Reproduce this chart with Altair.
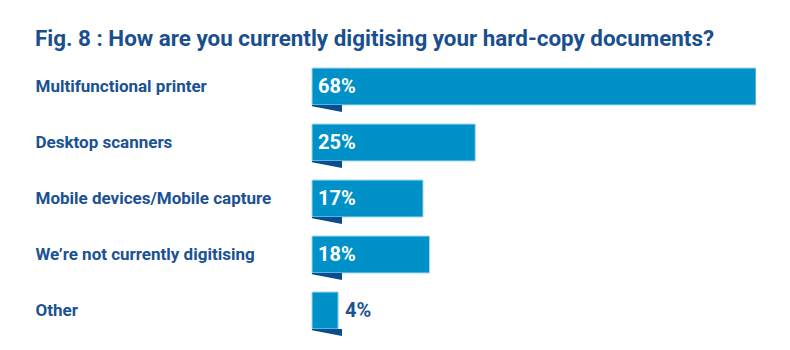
import altair as alt
import pandas as pd

categories = [
    "Multifunctional printer",
    "Desktop scanners",
    "Mobile devices/Mobile capture",
    "We\u2019re not currently digitising",
    "Other",
]
values = [68, 25, 17, 18, 4]

df = pd.DataFrame({
    "category": categories,
    "value": values,
    "label": [f"{v}%" for v in values],
})

BAR = "#0091c9"
EDGE = "#9fd6ef"
FOLD = "#0b4c8c"
DARK = "#1a5294"
FONT = "Roboto"

y_enc = alt.Y(
    "category:N",
    sort=categories,
    title=None,
    scale=alt.Scale(paddingInner=0.34, paddingOuter=0.17),
    axis=alt.Axis(
        labelAlign="left",
        labelPadding=277,
        ticks=False,
        domain=False,
        labelFont=FONT,
        labelFontSize=17,
        labelFontWeight="bold",
        labelColor=DARK,
        labelLimit=300,
    ),
)
x_scale = alt.Scale(domain=[0, 68], nice=False)

base = alt.Chart(df)

bars = base.mark_bar(color=BAR, stroke=EDGE, strokeWidth=1).encode(
    x=alt.X("value:Q", scale=x_scale, axis=None),
    y=y_enc,
)

fold = base.mark_point(
    shape="M0,0.617 L1,0.617 L1,0.85 L0,0.66 Z",
    size=3600,
    filled=True,
    fill=FOLD,
    strokeWidth=0,
    opacity=1,
).encode(
    x=alt.value(0),
    y=alt.Y("category:N", sort=categories),
)

inside = base.transform_filter("datum.value >= 10").mark_text(
    align="left", baseline="middle", font=FONT, fontSize=20,
    fontWeight="bold", color="white",
).encode(
    x=alt.value(6),
    y=alt.Y("category:N", sort=categories),
    text="label:N",
)

outside = base.transform_filter("datum.value < 10").mark_text(
    align="left", baseline="middle", font=FONT, fontSize=20,
    fontWeight="bold", color=DARK, dx=7,
).encode(
    x=alt.X("value:Q", scale=x_scale),
    y=alt.Y("category:N", sort=categories),
    text="label:N",
)

chart = alt.layer(bars, fold, inside, outside).properties(
    width=444,
    height=280,
    title=alt.TitleParams(
        "Fig. 8 : How are you currently digitising your hard-copy documents?",
        anchor="start",
        frame="bounds",
        font=FONT,
        fontSize=22.4,
        fontWeight="bold",
        color="#1a4f8f",
        offset=8,
    ),
    autosize=alt.AutoSizeParams(type="none"),
    padding={"left": 312, "top": 58.5, "right": 0, "bottom": 0},
).configure_view(stroke=None)

chart.save("out.html", embed_options={"renderer": "svg", "actions": False})
